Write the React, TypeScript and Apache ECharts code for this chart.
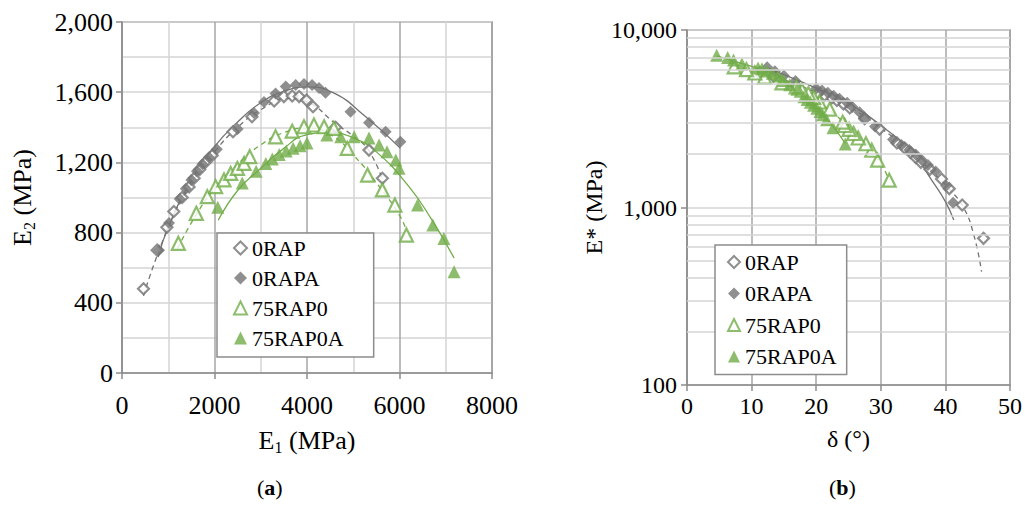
import React, { useEffect, useRef } from 'react';
import * as echarts from 'echarts';

const FONT = "'Liberation Serif', 'Times New Roman', serif";
const GRAY = '#737373';
const GREEN = '#70AD47';
const AXIS = '#8c8c8c';
const GRID_DARK = '#a6a6a6';
const GRID_LIGHT = '#d4d4d4';

const seriesNames = ['0RAP', '0RAPA', '75RAP0', '75RAP0A'];

// (a) E1 vs E2 (MPa)
const rap0: number[][] = [[465,480],[760,700],[970,830],[1120,920],[1300,1000],[1450,1060],[1560,1110],[1680,1160],[1800,1200],[1950,1240],[2400,1375],[2810,1460],[3290,1550],[3500,1575],[3680,1578],[3830,1575],[3990,1555],[4130,1517],[4620,1400],[5340,1270],[5630,1110]];
const rap0A: number[][] = [[800,700],[1016,855],[1247,991],[1380,1050],[1500,1100],[1620,1150],[1740,1190],[1880,1230],[2050,1275],[2500,1390],[2854,1481],[3070,1544],[3320,1593],[3540,1632],[3755,1641],[3935,1647],[4110,1641],[4260,1624],[4400,1597],[4940,1489],[5340,1426],[5700,1375],[6020,1318]];
const rap75: number[][] = [[1218,739],[1607,910],[1845,1005],[2025,1062],[2205,1100],[2350,1137],[2495,1166],[2640,1194],[2760,1233],[3320,1346],[3680,1378],[3935,1403],[4150,1413],[4370,1403],[4580,1394],[4870,1280],[5310,1128],[5630,1043],[5900,957],[6150,786]];
const rap75A: number[][] = [[2070,945],[2600,1082],[2900,1150],[3110,1194],[3250,1220],[3400,1245],[3550,1265],[3700,1280],[3850,1295],[4000,1310],[4430,1356],[4730,1346],[5020,1346],[5340,1339],[5560,1299],[5730,1261],[5920,1214],[5990,1166],[6390,957],[6720,843],[6960,767],[7180,577]];

// (a) trend lines
const trendRap0: number[][] = [[465,440],[1000,830],[1500,1080],[2000,1260],[2500,1400],[3000,1500],[3600,1565],[4000,1545],[4620,1420],[5000,1350],[5340,1265],[5660,1080]];
const trendRap0A: number[][] = [[780,660],[1000,830],[1500,1100],[2000,1290],[2500,1430],[3000,1540],[3500,1605],[4000,1630],[4540,1600],[5270,1460],[6020,1280]];
const trendRap75: number[][] = [[1200,710],[1600,900],[2000,1050],[2500,1190],[3000,1300],[3500,1370],[4000,1395],[4500,1360],[5010,1240],[5560,1063],[6020,890],[6160,800]];
const trendRap75A: number[][] = [[2080,870],[2500,1040],[2960,1157],[3500,1280],[3970,1356],[4500,1370],[5000,1340],[5500,1260],[6200,1063],[6700,872],[7180,655]];

// (b) phase angle (deg) vs E* (MPa)
const rap0B: number[][] = [[45.9,670],[42.6,1033],[40.6,1277],[39.4,1449],[37.6,1640],[36.2,1796],[35.4,1915],[34.6,2042],[33.7,2163],[32.5,2311],[29.8,2766],[27.5,3167],[25.2,3637],[24.2,3838],[23.2,4004],[22.4,4141],[21.3,4282],[20.2,4400],[16.9,4827],[13.4,5489],[11.2,5738]];
const rap0AB: number[][] = [[41.2,1063],[40.1,1328],[38.5,1593],[37.3,1734],[36.3,1860],[35.4,1987],[34.4,2108],[33.2,2247],[31.9,2414],[29.1,2860],[27.4,3215],[26.7,3436],[25.6,3682],[24.8,3898],[23.6,4098],[22.7,4266],[21.8,4426],[20.9,4559],[20.0,4681],[16.8,5160],[15.0,5527],[13.6,5864],[12.4,6163]];
const rap75B: number[][] = [[31.3,1425],[29.5,1847],[28.6,2101],[27.7,2287],[26.5,2464],[25.8,2611],[25.1,2754],[24.4,2897],[24.1,3023],[22.1,3582],[20.5,3930],[19.6,4178],[18.8,4384],[17.8,4590],[16.9,4787],[14.7,5035],[12.0,5428],[10.5,5726],[9.2,5977],[7.3,6200]];
const rap75AB: number[][] = [[24.5,2276],[22.6,2816],[21.6,3120],[21.0,3331],[20.6,3471],[20.1,3621],[19.6,3769],[19.1,3915],[18.6,4062],[18.1,4209],[17.0,4633],[15.9,4918],[15.0,5197],[14.1,5505],[13.2,5710],[12.4,5867],[11.6,6043],[11.0,6102],[8.5,6461],[7.2,6773],[6.3,7002],[4.6,7203]];

const trendRap0B: number[][] = [[11.2,5800],[15,5250],[20,4450],[25,3700],[30,2800],[35,2000],[38,1580],[40.5,1280],[42.8,1000],[44.4,700],[45.6,435]];
const trendRap0AB: number[][] = [[12.4,6150],[15,5600],[20,4700],[25,3850],[30,2900],[35,2020],[37.9,1420],[40,1080],[41.3,851]];
const trendRap75B: number[][] = [[7.3,6300],[10,5850],[15,5000],[20,4000],[25,2850],[29,2000],[31.3,1430]];
const trendRap75AB: number[][] = [[4.6,7150],[8,6550],[12,5900],[16,4950],[20,3700],[24.5,2300]];

const logMinorLines = [200, 300, 400, 500, 600, 700, 800, 900, 2000, 3000, 4000, 5000, 6000, 7000, 8000, 9000];

const fmt = (v: number) => v.toLocaleString('en-US');

function scatter(name: string, data: number[][], idx: number, symbol: string, color: string, open: boolean, size: number, z: number) {
  return {
    name,
    type: 'scatter',
    xAxisIndex: idx,
    yAxisIndex: idx,
    data,
    symbol,
    symbolSize: size,
    z,
    itemStyle: open
      ? { color: '#ffffff', borderColor: color, borderWidth: 2.2 }
      : { color, borderColor: color, borderWidth: 0 },
  };
}

function trend(name: string, data: number[][], idx: number, color: string, dashed: boolean, z: number) {
  return {
    name,
    type: 'line',
    xAxisIndex: idx,
    yAxisIndex: idx,
    data,
    smooth: true,
    showSymbol: false,
    symbol: 'none',
    z,
    lineStyle: { color, width: 1.3, type: dashed ? [5, 4] : 'solid' },
  };
}

function axisBase(fs: number) {
  return {
    axisLine: { show: true, onZero: false, lineStyle: { color: AXIS, width: 1.5 } },
    axisTick: { show: true, inside: false, length: 6, lineStyle: { color: AXIS, width: 1.5 } },
    axisLabel: { color: '#000', fontFamily: FONT, fontSize: fs },
    nameTextStyle: { color: '#000', fontFamily: FONT, fontSize: fs },
  };
}

function richName(fs: number) {
  return {
    n: { fontFamily: FONT, fontSize: fs, color: '#000', lineHeight: fs + 4 },
    s: { fontFamily: FONT, fontSize: Math.round(fs * 0.62), color: '#000', lineHeight: Math.round(fs * 0.62), verticalAlign: 'bottom' },
  };
}

const FS_A = 26;
const FS_B = 24;

export default function App() {
  const ref = useRef<HTMLDivElement>(null);
  useEffect(() => {
    if (!ref.current) return;
    const chart = echarts.init(ref.current, undefined, { renderer: 'svg' });
    const legendCommon = {
      orient: 'vertical',
      data: seriesNames,
      backgroundColor: '#fff',
      borderColor: AXIS,
      borderWidth: 1.5,
      borderRadius: 0,
      itemWidth: 13,
      itemHeight: 13,
      textStyle: { fontFamily: FONT, fontSize: 22, color: '#000' },
      z: 10,
    };
    const axA = axisBase(FS_A);
    const axB = axisBase(FS_B);
    chart.setOption({
      animation: false,
      backgroundColor: '#fff',
      grid: [
        { left: 122, top: 22, width: 370, height: 351, show: true, borderColor: AXIS, borderWidth: 1.5, backgroundColor: 'transparent' },
        { left: 687, top: 30, width: 325, height: 355, show: true, borderColor: AXIS, borderWidth: 1.5, backgroundColor: 'transparent' },
      ],
      legend: [
        { ...legendCommon, left: 217, top: 233, padding: [4, 30, 8, 16], itemGap: 8, width: 110 },
        { ...legendCommon, left: 715, top: 245, padding: [6, 10, 7, 12], itemGap: 9.5, itemWidth: 12, itemHeight: 12, width: 124 },
      ],
      xAxis: [
        {
          ...axA,
          gridIndex: 0,
          type: 'value',
          min: 0,
          max: 8000,
          interval: 2000,
          axisLabel: { ...axA.axisLabel, margin: 19, formatter: (v: number) => String(v) },
          splitLine: { show: true, lineStyle: { color: GRID_DARK, width: 1.5 } },
          minorTick: { show: false, splitNumber: 2 },
          minorSplitLine: { show: true, lineStyle: { color: GRID_LIGHT, width: 1.5 } },
          name: '{n|E}{s|1}{n| (MPa)}',
          nameLocation: 'middle',
          nameGap: 52,
          nameTextStyle: { ...axA.nameTextStyle, rich: richName(FS_A) },
        },
        {
          ...axB,
          gridIndex: 1,
          type: 'value',
          min: 0,
          max: 50,
          interval: 10,
          axisLabel: { ...axB.axisLabel, margin: 9 },
          splitLine: { show: true, lineStyle: { color: GRID_DARK, width: 1.5 } },
          name: 'δ (°)',
          nameLocation: 'middle',
          nameGap: 42,
        },
      ],
      yAxis: [
        {
          ...axA,
          gridIndex: 0,
          type: 'value',
          min: 0,
          max: 2000,
          interval: 400,
          axisLabel: { ...axA.axisLabel, margin: 9, formatter: fmt },
          splitLine: { show: true, lineStyle: { color: GRID_LIGHT, width: 1.5 } },
          minorTick: { show: false, splitNumber: 2 },
          minorSplitLine: { show: true, lineStyle: { color: GRID_LIGHT, width: 1.5 } },
          name: '{n|E}{s|2}{n| (MPa)}',
          nameLocation: 'middle',
          nameGap: 85,
          nameTextStyle: { ...axA.nameTextStyle, rich: richName(FS_A) },
        },
        {
          ...axB,
          gridIndex: 1,
          type: 'log',
          logBase: 10,
          min: 100,
          max: 10000,
          axisLabel: { ...axB.axisLabel, margin: 10, formatter: fmt },
          splitLine: { show: true, lineStyle: { color: GRID_LIGHT, width: 1.5 } },
          name: 'E* (MPa)',
          nameLocation: 'middle',
          nameGap: 81,
        },
      ],
      graphic: [
        {
          type: 'text',
          left: 257,
          top: 476,
          style: { text: '({b|a})', fontFamily: FONT, fontSize: 22, fill: '#000', rich: { b: { fontFamily: FONT, fontSize: 22, fontWeight: 'bold', fill: '#000' } } },
        },
        {
          type: 'text',
          left: 829,
          top: 476,
          style: { text: '({b|b})', fontFamily: FONT, fontSize: 22, fill: '#000', rich: { b: { fontFamily: FONT, fontSize: 22, fontWeight: 'bold', fill: '#000' } } },
        },
      ],
      series: [
        {
          name: 'log minor grid',
          type: 'line',
          xAxisIndex: 1,
          yAxisIndex: 1,
          data: [],
          z: 0,
          silent: true,
          markLine: {
            silent: true,
            symbol: 'none',
            label: { show: false },
            lineStyle: { color: GRID_LIGHT, type: 'solid', width: 1.5 },
            data: logMinorLines.map((v) => ({ yAxis: v })),
          },
        },
        trend('0RAP fit', trendRap0, 0, GRAY, true, 2),
        trend('0RAPA fit', trendRap0A, 0, GRAY, false, 2),
        trend('75RAP0 fit', trendRap75, 0, GREEN, true, 2),
        trend('75RAP0A fit', trendRap75A, 0, GREEN, false, 2),
        scatter('0RAP', rap0, 0, 'diamond', GRAY, true, 11, 3),
        scatter('0RAPA', rap0A, 0, 'diamond', GRAY, false, 12, 3),
        scatter('75RAP0', rap75, 0, 'triangle', GREEN, true, 13, 3),
        scatter('75RAP0A', rap75A, 0, 'triangle', GREEN, false, 13, 3),
        trend('0RAP fit b', trendRap0B, 1, GRAY, true, 2),
        trend('0RAPA fit b', trendRap0AB, 1, GRAY, false, 2),
        trend('75RAP0 fit b', trendRap75B, 1, GREEN, true, 2),
        trend('75RAP0A fit b', trendRap75AB, 1, GREEN, false, 2),
        scatter('0RAP', rap0B, 1, 'diamond', GRAY, true, 11, 3),
        scatter('0RAPA', rap0AB, 1, 'diamond', GRAY, false, 12, 3),
        scatter('75RAP0', rap75B, 1, 'triangle', GREEN, true, 13, 3),
        scatter('75RAP0A', rap75AB, 1, 'triangle', GREEN, false, 13, 3),
      ],
    });
    return () => chart.dispose();
  }, []);
  return <div ref={ref} style={{ position: 'absolute', left: 0, top: 0, width: 1025, height: 519 }} />;
}
